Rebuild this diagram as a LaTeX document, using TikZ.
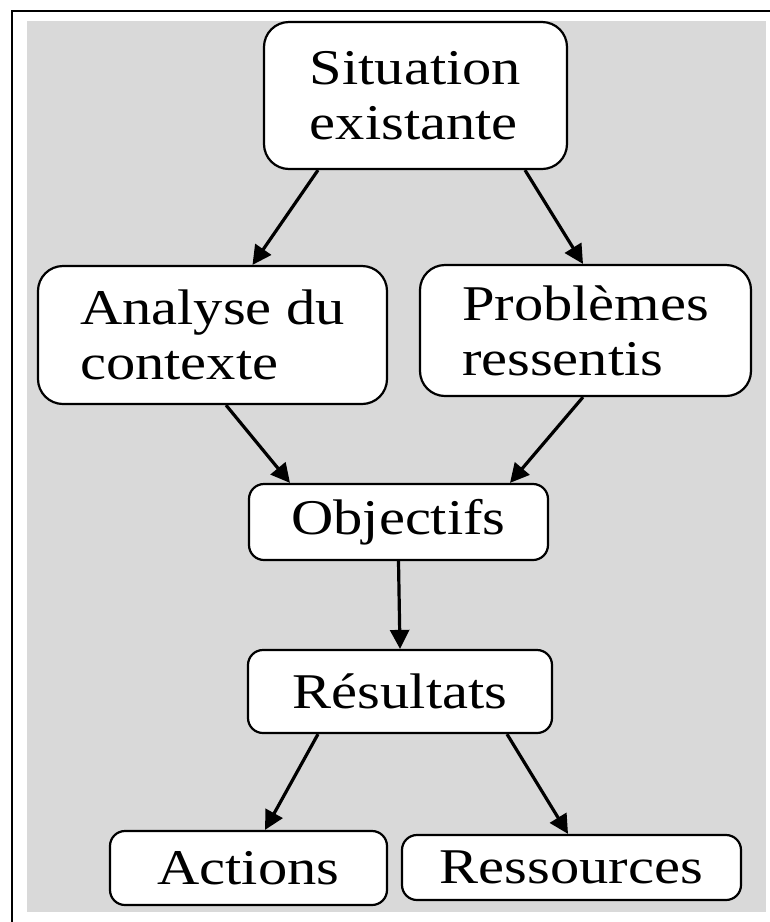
\documentclass[tikz,border=0pt]{standalone}
\usepackage{fontspec}
\setmainfont{Liberation Serif}[FakeStretch=1.17]
\usetikzlibrary{arrows.meta}
\definecolor{bggray}{HTML}{D9D9D9}

\begin{document}
\begin{tikzpicture}[x=1pt,y=-1pt,
  bigbox/.style={draw, line width=2.2pt, fill=white, rounded corners=25pt, align=left,
    font=\fontsize{50}{55}\selectfont},
  smallbox/.style={bigbox, rounded corners=15pt},
  arrow/.style={line width=3.2pt, -{Triangle[length=19pt,width=19pt]}}]
\useasboundingbox (0,0) rectangle (770,922);
\fill[bggray] (27,21) rectangle (766,912);
\draw[line width=2.5pt] (12,922) -- (12,11) -- (770,11);

\node[bigbox, minimum width=303pt, minimum height=147pt] (sit) at (415.5,95.5) {Situation\\existante};
\node[bigbox, minimum width=349pt, minimum height=138pt] (ana) at (212.5,335) {Analyse du\\contexte};
\node[bigbox, minimum width=331pt, minimum height=131pt] (pro) at (585.5,330.5) {Problèmes\\ressentis};
\node[smallbox, minimum width=299pt, minimum height=76pt] (obj) at (398.5,522) {Objectifs};
\node[smallbox, minimum width=304pt, minimum height=83pt] (res) at (400,691.5) {Résultats};
\node[smallbox, minimum width=277pt, minimum height=74pt] (act) at (248.5,868) {Actions};
\node[smallbox, minimum width=339pt, minimum height=65pt] (rsc) at (571.5,867.5) {Ressources};

\draw[arrow] ([xshift=-97.5pt]sit.south) -- ([xshift=40pt]ana.north);
\draw[arrow] ([xshift=109.5pt]sit.south) -- ([xshift=-2.5pt]pro.north);
\draw[arrow] ([xshift=13.5pt]ana.south) -- ([xshift=-108.5pt]obj.north);
\draw[arrow] ([xshift=-2.5pt]pro.south) -- ([xshift=111.5pt]obj.north);
\draw[arrow] (obj.south) -- (res.north);
\draw[arrow] ([xshift=-82pt]res.south) -- ([xshift=16.5pt]act.north);
\draw[arrow] ([xshift=107pt]res.south) -- ([xshift=-3.5pt]rsc.north);
\end{tikzpicture}
\end{document}
